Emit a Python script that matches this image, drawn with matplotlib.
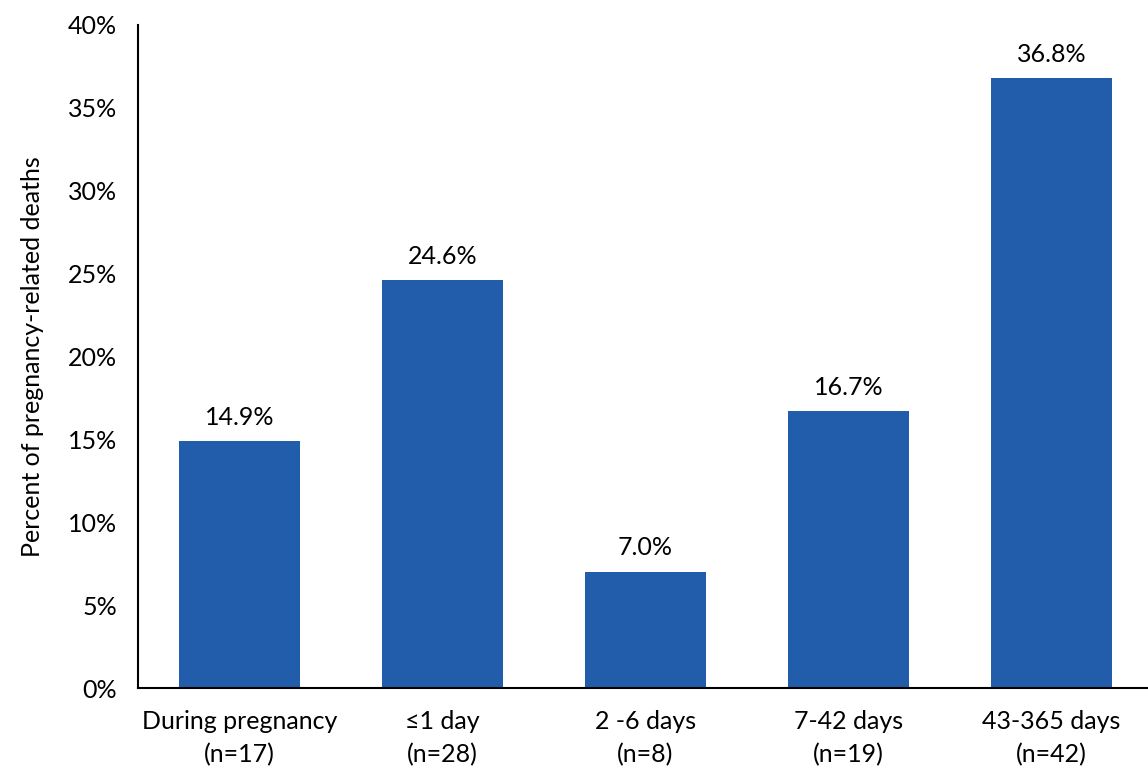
import matplotlib.pyplot as plt
from matplotlib.ticker import FuncFormatter

categories = ["During pregnancy\n(n=17)", "\u22641 day\n(n=28)", "2 -6 days\n(n=8)",
              "7-42 days\n(n=19)", "43-365 days\n(n=42)"]
percents = [14.9, 24.6, 7.0, 16.7, 36.8]
yticks = [0, 5, 10, 15, 20, 25, 30, 35, 40]

plt.rcParams['font.family'] = ['Lato', 'DejaVu Sans']

fig = plt.figure(figsize=(11.48, 7.71), dpi=100)
W, H = 1148, 771
ax = fig.add_axes([138 / W, (H - 688) / H, (1153 - 138) / W, (688 - 25) / H])

x = range(len(categories))
bars = ax.bar(x, percents, width=0.6, color='#215dab')
for b, v in zip(bars, percents):
    ax.annotate(f"{v:.1f}%", (b.get_x() + b.get_width() / 2, v), xytext=(0, 9),
                textcoords='offset points', ha='center', va='bottom', fontsize=18)

ax.set_xlim(-0.5, 4.5)
ax.set_ylim(0, 40)
ax.set_yticks(yticks)
ax.yaxis.set_major_formatter(FuncFormatter(lambda v, p: f"{int(v)}%"))
ax.set_xticks(list(x))
ax.set_xticklabels(categories, fontsize=18, linespacing=1.5)
ax.tick_params(axis='y', labelsize=18, length=0, pad=15)
ax.tick_params(axis='x', length=0, pad=16)
for s in ['top', 'right']:
    ax.spines[s].set_visible(False)
ax.spines['left'].set_linewidth(1.5)
ax.spines['bottom'].set_linewidth(1.5)
ax.set_ylabel("Percent of pregnancy-related deaths", fontsize=18, labelpad=17)

fig.savefig('out.png', dpi=100)
